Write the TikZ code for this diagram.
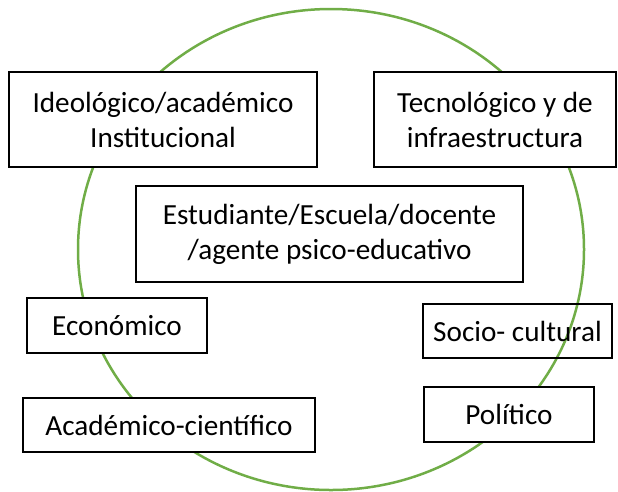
\documentclass[tikz,border=0pt]{standalone}
\usepackage{fontspec}
\setmainfont{Carlito}
\definecolor{ringgreen}{HTML}{70AD47}
\begin{document}
\begin{tikzpicture}[x=1pt,y=-1pt,
  box/.style={draw=black,line width=1.3pt,fill=white,inner sep=0pt,align=center,
    font=\fontsize{29.2}{35}\selectfont},
  openbox/.style={box,fill=none}]
\useasboundingbox (0,0) rectangle (618,491);
\draw[ringgreen,line width=2.5pt] (331,249.5) ellipse [x radius=253, y radius=240.5];
\node[box,minimum width=308pt,minimum height=95pt] (ideo) at (163,119.5) {Ideológico/académico\\Institucional};
\node[box,minimum width=242pt,minimum height=95pt] (tecno) at (495,119.5) {Tecnológico y de\\infraestructura};
\node[box,minimum width=387pt,minimum height=96pt] (est) at (329.5,234) {Estudiante/Escuela/docente\\/agente psico-educativo};
\node[box,minimum width=180pt,minimum height=55pt] (eco) at (117,325.5) {Económico};
\node[openbox,minimum width=189pt,minimum height=54pt] (socio) at (517.5,331) {Socio- cultural};
\node[box,minimum width=292pt,minimum height=54pt] (acad) at (169,425) {Académico-científico};
\node[box,minimum width=170pt,minimum height=55pt] (poli) at (509,414.5) {Político};
\end{tikzpicture}
\end{document}
